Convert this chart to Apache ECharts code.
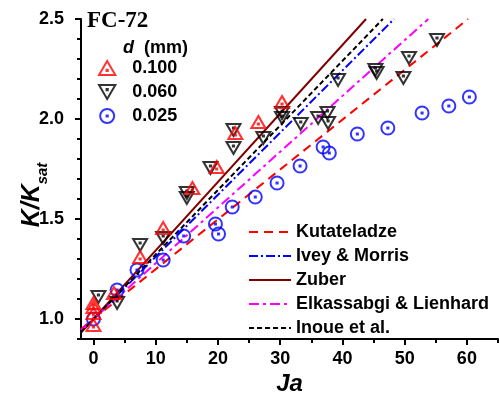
<!DOCTYPE html>
<html><head><meta charset="utf-8">
<script src="https://cdn.jsdelivr.net/npm/echarts@6/dist/echarts.min.js"></script>
<style>html,body{margin:0;padding:0;background:#fff}#c{width:499px;height:399px}</style>
</head><body><div id="c"></div>
<script>
// Data (Ja, K/Ksat)
const red100 = [[0,0.97],[0,1.03],[0,1.06],[0,1.08],[3.3,1.13],[7.5,1.31],[11.2,1.455],[15.9,1.655],[19.8,1.76],[22.8,1.93],[26.5,1.985],[30.3,2.085]];
const black060 = [[0.8,1.11],[3.8,1.08],[7.5,1.37],[11.2,1.405],[15,1.63],[15,1.605],[18.8,1.755],[22.5,1.945],[22.5,1.855],[27.3,1.905],[30.3,2.03],[30.3,2.005],[33.3,1.975],[36.1,2.005],[37.6,2.03],[37.7,1.98],[39.3,2.195],[45.3,2.245],[45.5,2.23],[49.8,2.205],[50.7,2.305],[55.2,2.395]];
const blue025 = [[0,1.0],[3.8,1.145],[7,1.245],[11.2,1.295],[14.5,1.415],[19.6,1.475],[20.1,1.425],[22.3,1.56],[26,1.61],[29.5,1.68],[33.2,1.765],[36.9,1.86],[37.9,1.83],[42.4,1.925],[47.3,1.955],[52.8,2.03],[57.1,2.065],[60.4,2.11]];
const kutateladze = [[-2,0.95],[60.2,2.5]];
const iveyMorris = [[-2,0.938],[48.3,2.5]];
const zuber = [[-2,0.932],[43.8,2.5]];
const elkassabgi = [[-2,0.944],[53.8,2.5]];
const inoue = [[-2,0.935],[46.5,2.5]];
const xMajor = [0,10,20,30,40,50,60];
const yMajor = [1.0,1.5,2.0,2.5];
const X_MIN = -2, X_MAX = 65, Y_MIN = 0.9, Y_MAX = 2.5;
const X_MINOR_STEP = 5, Y_MINOR_STEP = 0.1;
const scatterNames = ['0.100','0.060','0.025'];
const lineNames = ['Kutateladze','Ivey & Morris','Zuber','Elkassabgi & Lienhard','Inoue et al.'];

const FONT = 'Liberation Sans, Arial, sans-serif';
const triUp = 'path://M0,-6 L7,6 L-7,6 Z M-0.5,1.5 L0.5,1.5 L0.5,2.5 L-0.5,2.5 Z';
const triDown = 'path://M-7,-6 L7,-6 L0,6 Z M-0.5,-2.5 L0.5,-2.5 L0.5,-1.5 L-0.5,-1.5 Z';
const circ = 'path://M0,-6 A6,6 0 1,1 0,6 A6,6 0 1,1 0,-6 Z M-0.5,-0.5 L0.5,-0.5 L0.5,0.5 L-0.5,0.5 Z';

// plot frame
const G_LEFT = 81, G_RIGHT = 1, G_TOP = 19, G_BOTTOM = 60, W = 499;
const pxPerX = (W - G_LEFT - G_RIGHT) / (X_MAX - X_MIN);

const chart = echarts.init(document.getElementById('c'), null, {renderer:'canvas'});
function sc(name, data, sym, color, size){
  return {name, type:'scatter', data, symbol:sym, symbolSize:size, z:3,
    itemStyle:{color:'rgba(0,0,0,0)', borderColor:color, borderWidth:2}};
}
function ln(name, data, color, type){
  return {name, type:'line', data, symbol:'none', z:2,
    lineStyle:{color, width:2, type}, itemStyle:{color}};
}
const minorTickStyle = {show:true, inside:false, length:4, lineStyle:{color:'#000', width:2}};
chart.setOption({
  animation:false,
  backgroundColor:'#fff',
  grid:[
    {left:G_LEFT, right:G_RIGHT, top:G_TOP, bottom:G_BOTTOM, containLabel:false, outerBoundsMode:'none'},
    // helper frame starting at Ja = 0 so that minor x ticks fall on multiples of 5
    {left:G_LEFT + (0 - X_MIN) * pxPerX, right:G_RIGHT, top:G_TOP, bottom:G_BOTTOM, containLabel:false, outerBoundsMode:'none'},
    {left:G_LEFT, right:G_RIGHT, top:G_TOP, bottom:G_BOTTOM, containLabel:false, outerBoundsMode:'none'}
  ],
  title:[
    {text:'FC-72', left:82, top:5, textStyle:{fontFamily:'Liberation Serif, Times New Roman, serif', fontWeight:'bold', fontSize:23, color:'#000'}},
    {text:'{i|d}  (mm)', left:118, top:34, textStyle:{rich:{i:{fontFamily:FONT, fontStyle:'italic', fontWeight:'bold', fontSize:18, color:'#000'}}, fontFamily:FONT, fontWeight:'bold', fontSize:18, color:'#000'}}
  ],
  legend:[
    {data:[{name:'0.100', icon:triUp},{name:'0.060', icon:triDown},{name:'0.025', icon:circ}],
     orient:'vertical', left:93, top:54, itemWidth:40, itemHeight:14, itemGap:6,
     textStyle:{fontFamily:FONT, fontWeight:'bold', fontSize:18, color:'#000'}},
    {data:lineNames, orient:'vertical', left:248, top:223, padding:0, itemWidth:42, itemHeight:14, itemGap:6,
     itemStyle:{opacity:0},
     textStyle:{fontFamily:FONT, fontWeight:'bold', fontSize:18, color:'#000'}}
  ],
  xAxis:[
    {gridIndex:0, type:'value', min:X_MIN, max:X_MAX, position:'bottom', splitLine:{show:false},
      axisLine:{show:true, onZero:false, lineStyle:{color:'#000', width:2}},
      name:'Ja', nameLocation:'middle', nameGap:33, nameMoveOverlap:false,
      nameTextStyle:{fontFamily:FONT, fontStyle:'italic', fontWeight:'bold', fontSize:24, color:'#000'},
      axisTick:{show:true, inside:false, length:6, lineStyle:{color:'#000', width:2}, customValues:xMajor},
      axisLabel:{show:true, margin:11, customValues:xMajor, fontFamily:FONT, fontWeight:'bold', fontSize:18, color:'#000'}},
    {gridIndex:1, type:'value', min:0, max:X_MAX, interval:X_MINOR_STEP, position:'bottom', splitLine:{show:false},
      axisLine:{show:false, onZero:false}, axisTick:minorTickStyle, axisLabel:{show:false}},
    {gridIndex:2, type:'value', min:0, max:1, show:false}
  ],
  yAxis:[
    {gridIndex:0, type:'value', min:Y_MIN, max:Y_MAX, position:'left', splitLine:{show:false},
      axisLine:{show:true, onZero:false, lineStyle:{color:'#000', width:2}},
      name:'{a|K/K}{b|sat}', nameLocation:'middle', nameGap:36, nameRotate:90, nameMoveOverlap:false,
      nameTextStyle:{padding:[0,32,0,0], rich:{a:{fontFamily:FONT, fontStyle:'italic', fontWeight:'bold', fontSize:25, color:'#000', lineHeight:30, verticalAlign:'bottom'},
                           b:{fontFamily:FONT, fontStyle:'italic', fontWeight:'bold', fontSize:15, color:'#000', lineHeight:30, verticalAlign:'bottom', padding:[0,0,-5,0]}}},
      axisTick:{show:true, inside:false, length:6, lineStyle:{color:'#000', width:2}, customValues:yMajor},
      axisLabel:{show:true, margin:17, customValues:yMajor, formatter:v=>v.toFixed(1), fontFamily:FONT, fontWeight:'bold', fontSize:18, color:'#000'}},
    {gridIndex:1, type:'value', min:0, max:1, show:false},
    {gridIndex:2, type:'value', min:Y_MIN, max:Y_MAX, interval:Y_MINOR_STEP, position:'left', splitLine:{show:false},
      axisLine:{show:false, onZero:false}, axisTick:minorTickStyle, axisLabel:{show:false}}
  ],
  series:[
    ln(lineNames[0], kutateladze, '#ff0000', [9,6]),
    ln(lineNames[1], iveyMorris, '#0000ff', [9,3,2,3]),
    ln(lineNames[2], zuber, '#800000', 'solid'),
    ln(lineNames[3], elkassabgi, '#ff00ff', [10,4,3,4]),
    ln(lineNames[4], inoue, '#000000', [5,3]),
    sc(scatterNames[2], blue025, circ, '#0000ff', [13,13]),
    sc(scatterNames[1], black060, triDown, '#000000', [14,12]),
    sc(scatterNames[0], red100, triUp, '#ff0000', [14,12])
  ]
});
</script></body></html>
